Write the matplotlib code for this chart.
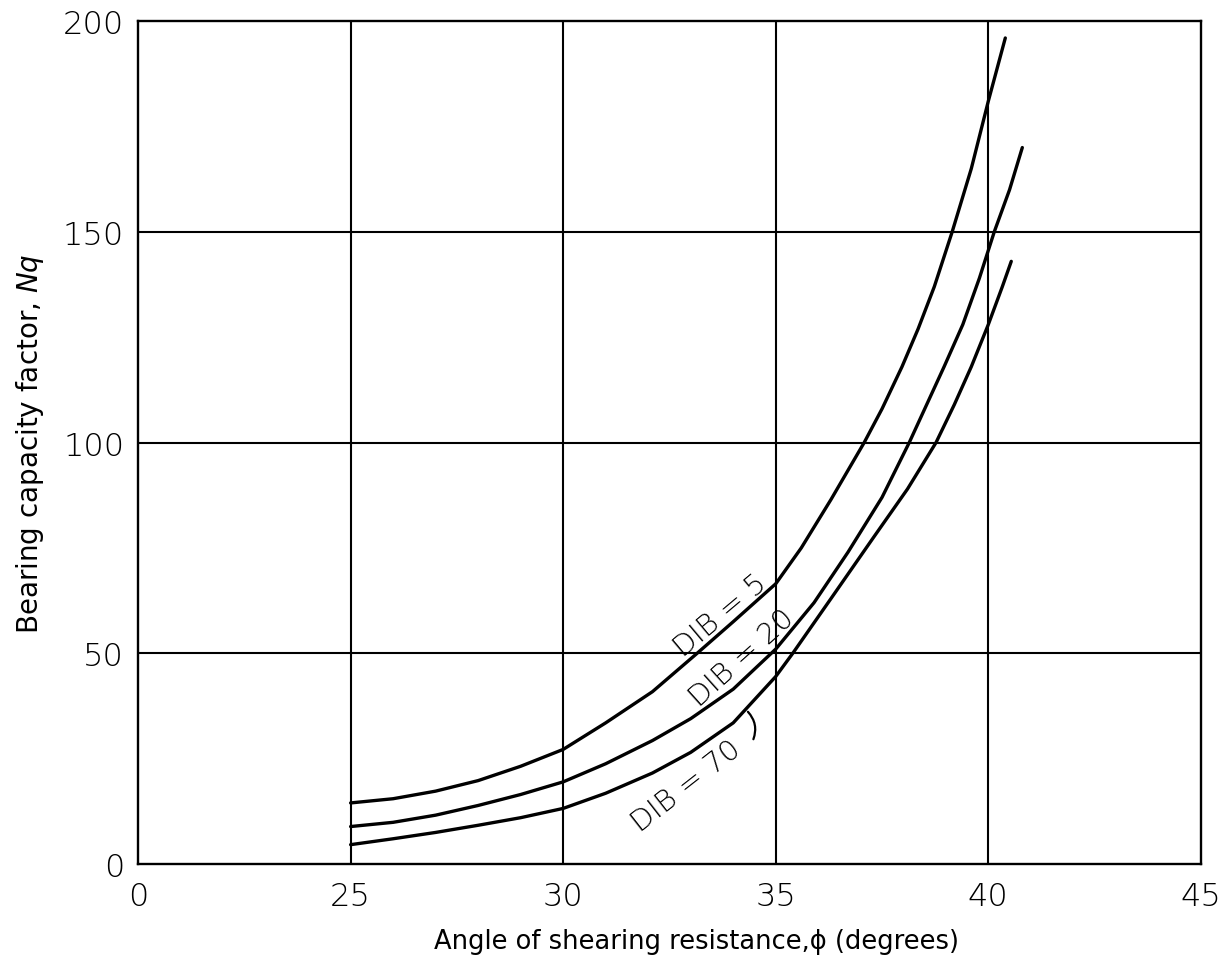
import matplotlib
matplotlib.use("Agg")
import matplotlib.pyplot as plt

# ---- data ----
phi_db5 = [25.0, 26.0, 27.0, 28.0, 29.0, 30.0, 31.0, 32.1, 33.15, 34.0, 35.0, 35.6, 36.3,
           37.08, 37.5, 37.97, 38.35, 38.73, 39.15, 39.6, 40.0, 40.4]
nq_db5 = [14.5, 15.5, 17.3, 19.8, 23.2, 27.2, 33.5, 40.9, 50.0, 57.5, 66.5, 75.0, 86.5,
          100.0, 108.0, 118.0, 127.0, 137.0, 150.0, 165.0, 181.0, 196.0]

phi_db20 = [25.0, 26.0, 27.0, 28.0, 29.0, 30.0, 31.0, 32.1, 33.0, 34.0, 35.0, 35.9, 36.7,
            37.5, 38.14, 38.55, 38.96, 39.4, 39.79, 40.14, 40.5, 40.8]
nq_db20 = [8.9, 9.9, 11.6, 13.9, 16.5, 19.5, 23.8, 29.3, 34.5, 41.5, 51.0, 62.0, 74.0,
           87.0, 100.0, 109.0, 118.0, 128.0, 139.0, 150.0, 160.0, 170.0]

phi_db70 = [25.0, 26.0, 27.0, 28.0, 29.0, 30.0, 31.0, 32.1, 33.0, 34.0, 35.0, 35.4, 36.3,
            37.3, 38.1, 38.77, 39.2, 39.6, 40.0, 40.33, 40.54]
nq_db70 = [4.6, 6.0, 7.5, 9.2, 11.0, 13.2, 16.8, 21.6, 26.5, 33.5, 44.5, 50.0, 63.0,
           77.5, 89.0, 100.0, 109.0, 118.0, 128.0, 137.0, 143.0]

curve_labels = ["DIB = 5", "DIB = 20", "DIB = 70"]
x_ticks = [20, 25, 30, 35, 40, 45]
x_tick_labels = ["0", "25", "30", "35", "40", "45"]
y_ticks = [0, 50, 100, 150, 200]
y_tick_labels = ["0", "50", "100", "150", "200"]

plt.rcParams['font.family'] = ['DejaVu Sans']

fig = plt.figure(figsize=(12.25, 9.70), dpi=100)
ax = fig.add_axes([0.1127, 0.1082, 0.8676, 0.8690])

ax.set_xlim(20, 45)
ax.set_ylim(0, 200)

# grid lines (hand drawn style)
for xv in [25, 30, 35, 40]:
    ax.axvline(xv, color='black', lw=1.5, zorder=1)
for yv in [50, 100, 150]:
    ax.axhline(yv, color='black', lw=1.5, zorder=1)

for s in ax.spines.values():
    s.set_linewidth(1.7)
    s.set_color('black')

lw = 2.4
for px, py in [(phi_db5, nq_db5), (phi_db20, nq_db20), (phi_db70, nq_db70)]:
    ax.plot(px, py, color='black', lw=lw, solid_capstyle='round',
            solid_joinstyle='round', zorder=3)

ax.set_xticks(x_ticks)
ax.set_xticklabels(x_tick_labels)
ax.set_yticks(y_ticks)
ax.set_yticklabels(y_tick_labels)
ax.tick_params(axis='both', length=0, labelsize=23, colors='black')
ax.tick_params(axis='x', pad=12)
ax.tick_params(axis='y', pad=10)
for lbl in ax.get_xticklabels() + ax.get_yticklabels():
    lbl.set_fontweight('light')

ax.set_xlabel("Angle of shearing resistance,\u03d5 (degrees)", fontsize=18.5)
ax.xaxis.set_label_coords(0.525, -0.076)
ax.set_ylabel("Bearing capacity factor, $\\mathit{Nq}$", fontsize=20, labelpad=12)

# curve labels
txt_kw = dict(fontsize=21, ha='center', va='center', color='black', zorder=4,
              fontweight='light')
ax.text(33.7, 59.0, curve_labels[0], rotation=40, **txt_kw)
ax.text(34.2, 49.0, curve_labels[1], rotation=42, **txt_kw)
ax.text(32.9, 18.5, curve_labels[2], rotation=38, **txt_kw)

# leader for D/B = 70
ax.annotate("", xy=(34.3, 36.6), xytext=(34.45, 29.0),
            arrowprops=dict(arrowstyle='-', color='black', lw=1.6,
                            connectionstyle='arc3,rad=0.35'))

fig.savefig("out.png", dpi=100, facecolor='white')
